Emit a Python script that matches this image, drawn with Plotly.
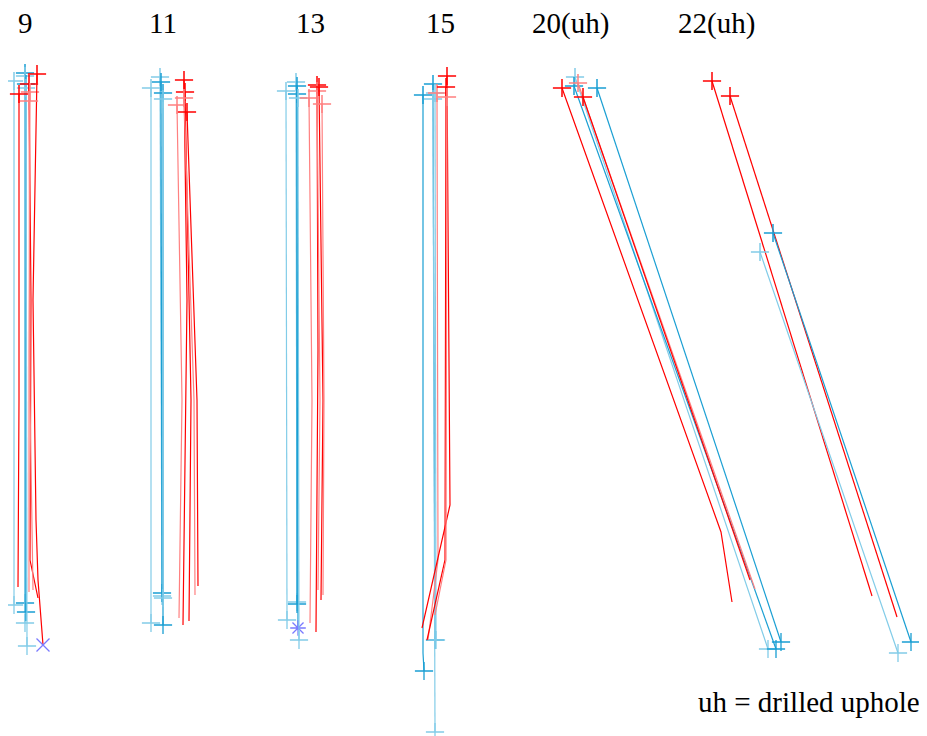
import plotly.graph_objects as go

# Group labels (section numbers) and their anchor positions (image coordinates)
group_labels = ["9", "11", "13", "15", "20(uh)", "22(uh)"]
label_x = [25, 163, 310, 440, 570, 716]
label_y = [23, 23, 23, 23, 23, 23]
note_text = "uh = drilled uphole"

# Drill-hole traces: x / y vertices (collar first, toe last)
hole_x = [
    # section 9
    [14, 14], [25, 25], [25, 25], [26, 26], [26, 27],
    [19, 19, 18], [29, 31, 30, 38], [30, 29, 29], [37, 33, 36, 38, 43], [29, 30, 33],
    # section 11
    [151, 151], [160, 162], [161, 162], [163, 163], [163, 163],
    [177, 182, 179], [184, 187, 183], [185, 191, 189], [184, 194, 195], [187, 197, 198],
    # section 13
    [286, 287], [296, 297], [297, 297], [297, 298], [298, 299],
    [309, 312, 310], [317, 318, 316], [317, 320, 318], [319, 323, 321], [322, 324, 323],
    # section 15
    [423, 423, 424], [433, 435], [433, 435], [435, 436],
    [437, 438, 428], [447, 450, 422], [446, 445, 427], [447, 446, 435],
    # section 20 (uphole)
    [562, 721, 732], [575, 768], [574, 776], [578, 755], [583, 750], [597, 781],
    # section 22 (uphole)
    [712, 872], [730, 897], [773, 911], [760, 898],
]
hole_y = [
    # section 9
    [81, 605], [73, 603], [76, 623], [84, 612], [88, 646],
    [94, 400, 587], [84, 300, 560, 598], [92, 350, 592], [74, 300, 520, 580, 645], [101, 400, 590],
    # section 11
    [88, 623], [77, 596], [82, 593], [93, 625], [99, 598],
    [105, 400, 618], [80, 300, 625], [92, 400, 621], [98, 400, 595], [112, 400, 586],
    # section 13
    [91, 620], [82, 602], [86, 604], [94, 628], [98, 640],
    [98, 400, 623], [85, 350, 632], [91, 400, 590], [87, 400, 600], [104, 400, 595],
    # section 15
    [95, 653, 671], [84, 640], [99, 732], [93, 640],
    [93, 560, 640], [76, 505, 628], [87, 560, 640], [97, 560, 615],
    # section 20 (uphole)
    [88, 532, 602], [77, 649], [86, 649], [83, 589], [97, 580], [88, 642],
    # section 22 (uphole)
    [81, 596], [96, 617], [233, 642], [252, 653],
]
hole_color = [
    "lblue", "blue", "lblue", "blue", "lblue",
    "red", "red", "lred", "red", "lred",
    "lblue", "lblue", "blue", "blue", "lblue",
    "lred", "red", "red", "lred", "red",
    "lblue", "lblue", "blue", "blue", "lblue",
    "lred", "red", "lred", "red", "lred",
    "blue", "blue", "lblue", "lblue",
    "lred", "red", "red", "lred",
    "red", "lblue", "blue", "lred", "red", "blue",
    "red", "red", "blue", "lblue",
]
start_symbol = ["cross"] * len(hole_x)
end_symbol = ["cross"] * len(hole_x)
end_symbol[8] = "x"          # section 9 red hole ends with an x
end_symbol[23] = "asterisk"  # section 13 blue hole ends with an asterisk
# holes with no marker at the toe
for i in [5, 6, 7, 9, 15, 16, 17, 18, 19, 25, 26, 27, 28, 29, 34, 35, 36, 37, 38, 41, 42, 44, 45]:
    end_symbol[i] = "none"

palette = {
    "blue": "#1a9fd3",
    "lblue": "#82cce8",
    "red": "#ff0000",
    "lred": "#ff8080",
}
sym_map = {"cross": "cross-thin", "x": "x-thin", "asterisk": "asterisk", "none": "cross-thin"}

fig = go.Figure()
for xs, ys, c, s0, s1 in zip(hole_x, hole_y, hole_color, start_symbol, end_symbol):
    col = palette[c]
    fig.add_trace(go.Scatter(x=xs, y=ys, mode="lines", line=dict(color=col, width=1.2),
                             hoverinfo="skip", showlegend=False))
    fig.add_trace(go.Scatter(x=[xs[0]], y=[ys[0]], mode="markers",
                             marker=dict(symbol=sym_map[s0], size=13, line=dict(color=col, width=1.5)),
                             hoverinfo="skip", showlegend=False))
    if s1 != "none":
        ecol = "#7a7aff" if s1 in ("x", "asterisk") else col
        fig.add_trace(go.Scatter(x=[xs[-1]], y=[ys[-1]], mode="markers",
                                 marker=dict(symbol=sym_map[s1], size=13, line=dict(color=ecol, width=1.3)),
                                 hoverinfo="skip", showlegend=False))

serif = "Liberation Serif"
for t, x, y in zip(group_labels, label_x, label_y):
    fig.add_annotation(x=x, y=y, text=t, showarrow=False, xanchor="center", yanchor="middle",
                       font=dict(family=serif, size=29, color="black"))
fig.add_annotation(x=922, y=702, text=note_text, showarrow=False, xanchor="right", yanchor="middle",
                   font=dict(family=serif, size=29, color="black"))

# The page body has an 8px margin; shift the ranges so image coordinates map 1:1 to the window
fig.update_layout(
    width=919, height=728,
    margin=dict(l=0, r=0, t=0, b=0),
    paper_bgcolor="white", plot_bgcolor="white",
    font=dict(family=serif),
    xaxis=dict(range=[8, 927], visible=False, fixedrange=True),
    yaxis=dict(range=[736, 8], visible=False, fixedrange=True),
)
fig.write_html("out.html")
